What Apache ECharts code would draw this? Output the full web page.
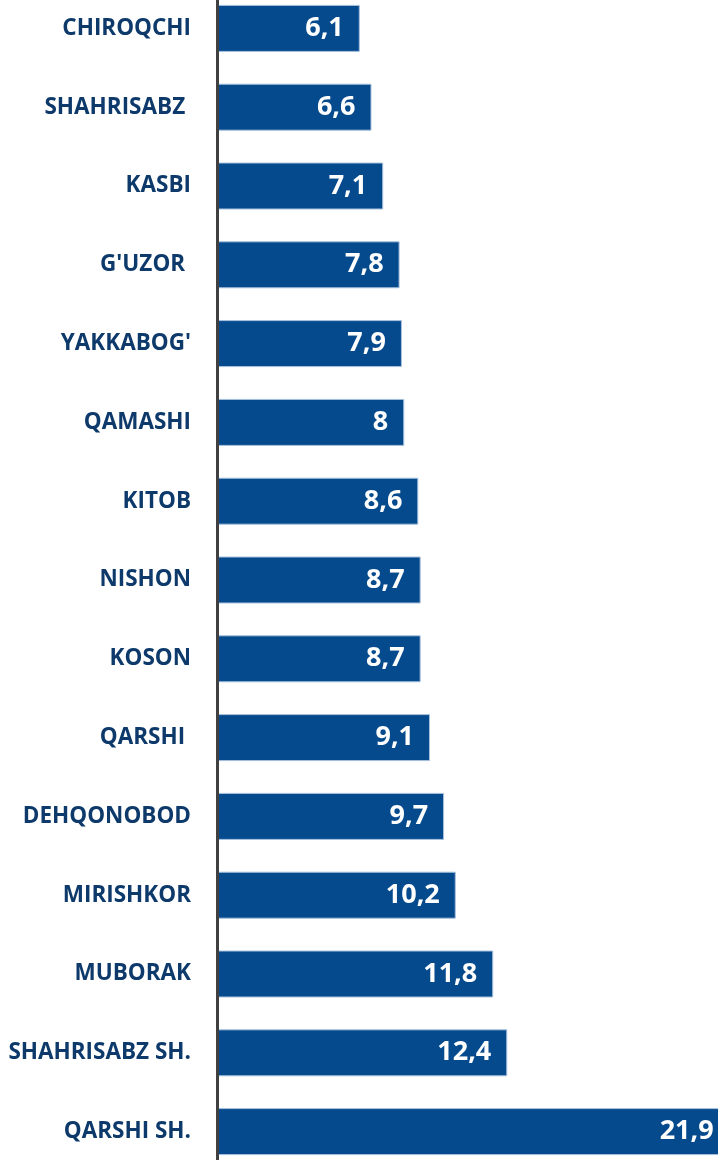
<!DOCTYPE html>
<html>
<head>
<meta charset="utf-8">
<script src="https://cdn.jsdelivr.net/npm/echarts@6/dist/echarts.min.js"></script>
<style>
html,body{margin:0;padding:0;background:#fff;overflow:hidden;width:718px;height:1160px;position:relative;}
#main{position:absolute;left:0;top:-11px;width:732px;height:1182px;}
</style>
</head>
<body>
<div id="main"></div>
<script>
var districts = ['CHIROQCHI','SHAHRISABZ ','KASBI','G\'UZOR ','YAKKABOG\'','QAMASHI','KITOB','NISHON','KOSON','QARSHI ','DEHQONOBOD','MIRISHKOR','MUBORAK','SHAHRISABZ SH.','QARSHI SH.'];
var values = [6.1, 6.6, 7.1, 7.8, 7.9, 8, 8.6, 8.7, 8.7, 9.1, 9.7, 10.2, 11.8, 12.4, 21.9];

var myChart = echarts.init(document.getElementById('main'));
var option = {
    animation: false,
    grid: {
        left: 217,
        right: 0,
        top: 0,
        bottom: 0,
        containLabel: false
    },
    xAxis: {
        type: 'value',
        min: 0,
        max: 22,
        show: false
    },
    yAxis: {
        type: 'category',
        inverse: true,
        data: districts,
        z: 3,
        axisLine: {show: true, lineStyle: {color: '#404040', width: 3}},
        axisTick: {show: false},
        axisLabel: {
            margin: 26,
            color: '#0D3A6B',
            fontFamily: 'Open Sans',
            fontWeight: 'bold',
            fontSize: 22.5
        }
    },
    series: [
        {
            type: 'bar',
            data: values,
            barWidth: 47,
            itemStyle: {color: '#064A8E', borderColor: '#A8C2DE', borderWidth: 1},
            label: {
                show: true,
                position: 'insideRight',
                distance: 16,
                color: '#fff',
                fontFamily: 'Open Sans',
                fontWeight: 'bold',
                fontSize: 27,
                formatter: function(p){
                    return String(p.value).replace('.', ',');
                }
            }
        }
    ]
};
myChart.setOption(option);
</script>
</body>
</html>
